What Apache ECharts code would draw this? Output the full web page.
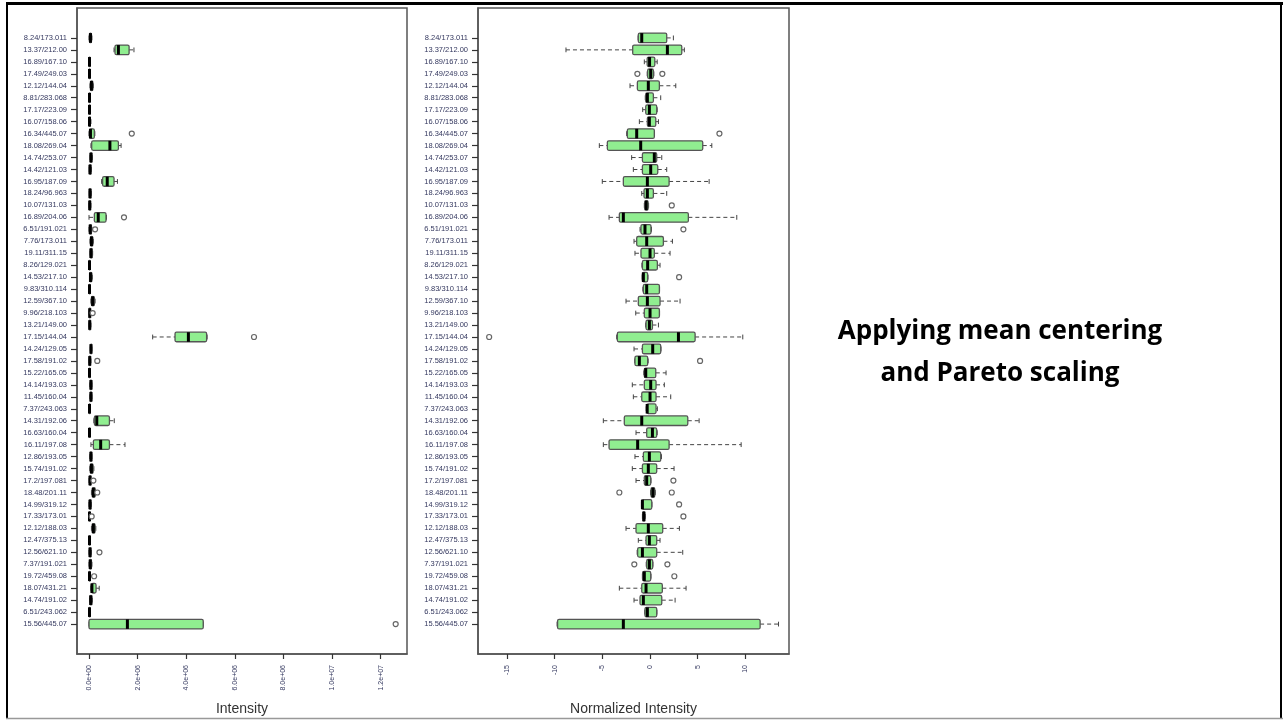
<!DOCTYPE html>
<html>
<head>
<meta charset="utf-8">
<title>Intensity vs normalized intensity</title>
<script src="https://cdn.jsdelivr.net/npm/echarts@6/dist/echarts.min.js"></script>
<style>
    html, body { margin: 0; padding: 0; background: #fff; }
    #main { width: 1283px; height: 721px; }
</style>
</head>
<body>
<div id="main"></div>
<script>
// feature labels, top to bottom
var features = ['8.24/173.011', '13.37/212.00', '16.89/167.10', '17.49/249.03', '12.12/144.04',
    '8.81/283.068', '17.17/223.09', '16.07/158.06', '16.34/445.07', '18.08/269.04',
    '14.74/253.07', '14.42/121.03', '16.95/187.09', '18.24/96.963', '10.07/131.03',
    '16.89/204.06', '6.51/191.021', '7.76/173.011', '19.11/311.15', '8.26/129.021',
    '14.53/217.10', '9.83/310.114', '12.59/367.10', '9.96/218.103', '13.21/149.00',
    '17.15/144.04', '14.24/129.05', '17.58/191.02', '15.22/165.05', '14.14/193.03',
    '11.45/160.04', '7.37/243.063', '14.31/192.06', '16.63/160.04', '16.11/197.08',
    '12.86/193.05', '15.74/191.02', '17.2/197.081', '18.48/201.11', '14.99/319.12',
    '17.33/173.01', '12.12/188.03', '12.47/375.13', '12.56/621.10', '7.37/191.021',
    '19.72/459.08', '18.07/431.21', '14.74/191.02', '6.51/243.062', '15.56/445.07'];

// raw intensity (left panel)
var intMin = [0, 1.03e6, 0, 0, 0.04e6, 0, 0, 0, 0, 0.08e6,
    0.04e6, 0.01e6, 0.52e6, 0.01e6, 0, 0, 0, 0.04e6, 0.04e6, 0,
    0.02e6, 0, 0.08e6, 0, 0, 2.62e6, 0.05e6, 0, 0, 0.03e6,
    0.03e6, 0, 0.20e6, 0, 0.08e6, 0.03e6, 0.03e6, 0, 0.10e6, 0,
    0, 0.10e6, 0, 0, 0, 0, 0.08e6, 0.02e6, 0, 0];
var intQ1 = [0.02e6, 1.07e6, 0.01e6, 0.01e6, 0.06e6, 0.01e6, 0.01e6, 0.01e6, 0.02e6, 0.11e6,
    0.05e6, 0.02e6, 0.56e6, 0.02e6, 0.01e6, 0.22e6, 0.02e6, 0.06e6, 0.05e6, 0.01e6,
    0.03e6, 0.01e6, 0.10e6, 0.01e6, 0.01e6, 3.54e6, 0.06e6, 0.01e6, 0.01e6, 0.05e6,
    0.05e6, 0.01e6, 0.22e6, 0.01e6, 0.18e6, 0.05e6, 0.05e6, 0.02e6, 0.13e6, 0.02e6,
    0.01e6, 0.13e6, 0.01e6, 0.02e6, 0.02e6, 0.01e6, 0.10e6, 0.04e6, 0.01e6, 0];
var intMed = [0.06e6, 1.21e6, 0.02e6, 0.02e6, 0.10e6, 0.02e6, 0.02e6, 0.02e6, 0.06e6, 0.86e6,
    0.08e6, 0.04e6, 0.75e6, 0.04e6, 0.03e6, 0.38e6, 0.05e6, 0.10e6, 0.08e6, 0.02e6,
    0.06e6, 0.02e6, 0.15e6, 0.03e6, 0.03e6, 4.09e6, 0.08e6, 0.03e6, 0.02e6, 0.08e6,
    0.08e6, 0.02e6, 0.32e6, 0.02e6, 0.48e6, 0.08e6, 0.10e6, 0.04e6, 0.18e6, 0.04e6,
    0.02e6, 0.18e6, 0.02e6, 0.04e6, 0.05e6, 0.02e6, 0.12e6, 0.07e6, 0.02e6, 1.58e6];
var intQ3 = [0.10e6, 1.65e6, 0.04e6, 0.04e6, 0.16e6, 0.04e6, 0.04e6, 0.05e6, 0.22e6, 1.21e6,
    0.12e6, 0.08e6, 1.03e6, 0.08e6, 0.06e6, 0.70e6, 0.10e6, 0.16e6, 0.13e6, 0.04e6,
    0.12e6, 0.04e6, 0.22e6, 0.06e6, 0.06e6, 4.84e6, 0.11e6, 0.06e6, 0.04e6, 0.11e6,
    0.11e6, 0.04e6, 0.84e6, 0.04e6, 0.84e6, 0.11e6, 0.17e6, 0.08e6, 0.26e6, 0.08e6,
    0.04e6, 0.25e6, 0.04e6, 0.08e6, 0.10e6, 0.04e6, 0.29e6, 0.12e6, 0.04e6, 4.70e6];
var intMax = [0.12e6, 1.85e6, 0.05e6, 0.05e6, 0.18e6, 0.05e6, 0.05e6, 0.08e6, 0.24e6, 1.32e6,
    0.14e6, 0.10e6, 1.17e6, 0.10e6, 0.08e6, 0.72e6, 0.12e6, 0.18e6, 0.15e6, 0.05e6,
    0.14e6, 0.05e6, 0.25e6, 0.08e6, 0.08e6, 4.86e6, 0.12e6, 0.08e6, 0.05e6, 0.12e6,
    0.12e6, 0.05e6, 1.04e6, 0.05e6, 1.48e6, 0.12e6, 0.20e6, 0.10e6, 0.29e6, 0.10e6,
    0.05e6, 0.28e6, 0.05e6, 0.10e6, 0.12e6, 0.05e6, 0.42e6, 0.14e6, 0.05e6, 4.70e6];
var intOutFeature = ['16.34/445.07', '16.89/204.06', '6.51/191.021', '9.96/218.103', '17.15/144.04',
    '17.58/191.02', '17.2/197.081', '18.48/201.11', '17.33/173.01', '12.56/621.10',
    '19.72/459.08', '15.56/445.07'];
var intOutValue = [1.76e6, 1.44e6, 0.25e6, 0.15e6, 6.79e6, 0.34e6, 0.18e6, 0.34e6, 0.11e6, 0.43e6, 0.21e6, 12.62e6];
var intTickValues = [0, 2e6, 4e6, 6e6, 8e6, 1e7, 1.2e7];
var intTickLabels = ['0.0e+00', '2.0e+06', '4.0e+06', '6.0e+06', '8.0e+06', '1.0e+07', '1.2e+07'];

// mean centred + pareto scaled (right panel)
var normMin = [-1.25, -8.82, -0.6, -0.3, -2.1, -0.5, -0.77, -1.12, -2.45, -5.32,
    -1.93, -1.75, -5.01, -0.87, -0.6, -4.3, -1.05, -1.68, -1.58, -0.85,
    -0.82, -0.75, -2.52, -1.5, -0.45, -3.5, -1.68, -1.6, -0.65, -1.86,
    -1.75, -0.4, -4.9, -1.47, -4.9, -1.58, -1.86, -1.47, 0.05, -0.9,
    -0.8, -2.52, -1.23, -1.35, -0.4, -0.8, -3.22, -1.68, -0.55, -9.75];
var normQ1 = [-1.23, -1.82, -0.3, -0.25, -1.33, -0.45, -0.45, -0.28, -2.38, -4.48,
    -0.8, -0.8, -2.8, -0.63, -0.55, -3.22, -0.95, -1.4, -0.95, -0.8,
    -0.8, -0.7, -1.23, -0.6, -0.42, -3.43, -0.8, -1.58, -0.6, -0.6,
    -0.87, -0.35, -2.7, -0.35, -4.3, -0.7, -0.8, -0.6, 0.1, -0.87,
    -0.75, -1.47, -0.42, -1.3, -0.35, -0.78, -0.87, -1.05, -0.53, -9.7];
var normMed = [-0.87, 1.82, -0.05, 0.07, -0.18, -0.28, -0.07, -0.07, -1.4, -0.98,
    0.45, 0.07, -0.28, -0.28, -0.4, -2.8, -0.53, -0.35, 0.0, -0.25,
    -0.7, -0.35, -0.28, 0.0, -0.07, 2.98, 0.28, -1.12, -0.45, 0.07,
    0.0, -0.3, -0.87, 0.25, -1.3, -0.07, -0.18, -0.35, 0.3, -0.8,
    -0.65, -0.18, -0.07, -0.8, -0.07, -0.6, -0.42, -0.7, -0.28, -2.8];
var normQ3 = [1.75, 3.33, 0.5, 0.35, 0.98, 0.35, 0.7, 0.6, 0.45, 5.53,
    0.7, 0.81, 2.0, 0.35, -0.2, 4.02, 0.1, 1.4, 0.45, 0.77,
    -0.25, 0.98, 1.05, 0.98, 0.25, 4.73, 1.12, -0.25, 0.6, 0.63,
    0.63, 0.63, 3.96, 0.7, 2.0, 1.12, 0.7, 0.07, 0.5, 0.18,
    -0.55, 1.33, 0.7, 0.7, 0.28, 0.07, 1.29, 1.23, 0.7, 11.55];
var normMax = [2.45, 3.6, 0.75, 0.4, 2.7, 1.12, 0.75, 0.88, 0.47, 6.48,
    1.23, 1.75, 6.2, 1.75, -0.15, 9.1, 0.15, 2.35, 2.1, 1.05,
    -0.22, 1.0, 3.15, 1.0, 0.88, 9.73, 1.15, -0.2, 1.68, 1.5,
    2.17, 0.77, 5.15, 0.75, 9.56, 1.2, 2.52, 0.1, 0.55, 0.2,
    -0.5, 3.08, 1.05, 3.43, 0.3, 0.1, 3.78, 2.63, 0.72, 13.48];
var normOutFeature = ['17.49/249.03', '17.49/249.03', '16.34/445.07', '10.07/131.03', '6.51/191.021',
    '14.53/217.10', '17.15/144.04', '17.58/191.02', '17.2/197.081', '18.48/201.11',
    '18.48/201.11', '14.99/319.12', '17.33/173.01', '7.37/191.021', '7.37/191.021',
    '19.72/459.08'];
var normOutValue = [-1.33, 1.29, 7.28, 2.28, 3.5, 3.05, -16.88, 5.25, 2.45, -3.22,
    2.28, 3.05, 3.5, -1.65, 1.82, 2.55];
var normTickValues = [-15, -10, -5, 0, 5, 10];

var labelColor = '#34385f';
var fontName = '"Liberation Sans", Arial, sans-serif';

// row positions on the vertical axis (one per feature)
var rowIndex = features.map(function(f, i) { return i; });

// box + dashed whiskers + short staples + heavy median, like R's boxplot
function renderBox(params, api) {
    var row = api.value(0);
    var pMin = api.coord([api.value(1), row]);
    var pQ1 = api.coord([api.value(2), row]);
    var pMed = api.coord([api.value(3), row]);
    var pQ3 = api.coord([api.value(4), row]);
    var pMax = api.coord([api.value(5), row]);
    var h = api.size([0, 1])[1] * 0.8;
    var y = pMed[1];
    var cap = h / 4;
    var whisker = { stroke: '#444', lineWidth: 1, lineDash: [4, 3] };
    var staple = { stroke: '#444', lineWidth: 1 };
    return {
        type: 'group',
        children: [
            { type: 'line', shape: { x1: pMin[0], y1: y, x2: pQ1[0], y2: y }, style: whisker },
            { type: 'line', shape: { x1: pQ3[0], y1: y, x2: pMax[0], y2: y }, style: whisker },
            { type: 'line', shape: { x1: pMin[0], y1: y - cap, x2: pMin[0], y2: y + cap }, style: staple },
            { type: 'line', shape: { x1: pMax[0], y1: y - cap, x2: pMax[0], y2: y + cap }, style: staple },
            {
                type: 'rect',
                shape: { x: pQ1[0], y: y - h / 2, width: pQ3[0] - pQ1[0], height: h, r: 1.5 },
                style: { fill: '#90ee90', stroke: '#555', lineWidth: 1.3 }
            },
            {
                type: 'line',
                shape: { x1: pMed[0], y1: y - h / 2, x2: pMed[0], y2: y + h / 2 },
                style: { stroke: '#000', lineWidth: 3 }
            }
        ]
    };
}

function boxData(mins, q1s, meds, q3s, maxs) {
    return features.map(function(f, i) {
        return [i, mins[i], q1s[i], meds[i], q3s[i], maxs[i]];
    });
}

function outlierData(names, values) {
    return names.map(function(n, i) {
        return [values[i], features.indexOf(n)];
    });
}

function frameLine() {
    return { show: true, onZero: false, lineStyle: { color: '#555', width: 1.5 } };
}

function tickStyle(len, values) {
    return { show: true, length: len, customValues: values, lineStyle: { color: '#333', width: 1.2 } };
}

// R pads the 1..50 row range by 4% on each side
function rowAxis(gridIndex) {
    return {
        type: 'value',
        gridIndex: gridIndex,
        inverse: true,
        min: -2.5,
        max: 51.5,
        axisLine: frameLine(),
        axisTick: tickStyle(6, rowIndex),
        axisLabel: {
            customValues: rowIndex,
            formatter: function(v) { return features[v]; },
            fontSize: 7.5,
            color: labelColor,
            fontFamily: fontName,
            margin: 10
        },
        splitLine: { show: false }
    };
}

var myChart = echarts.init(document.getElementById('main'));

var option = {
    animation: false,
    backgroundColor: '#fff',
    grid: [
        { left: 77, width: 330, top: 8, height: 647, show: true, borderColor: '#555', borderWidth: 1.5 },
        { left: 478, width: 311, top: 8, height: 647, show: true, borderColor: '#555', borderWidth: 1.5 }
    ],
    xAxis: [{
        type: 'value',
        gridIndex: 0,
        min: -0.494e6,
        max: 13.086e6,
        name: 'Intensity',
        nameLocation: 'middle',
        nameGap: 48,
        nameTextStyle: { fontSize: 14, color: '#333', fontFamily: fontName },
        axisLine: frameLine(),
        axisTick: tickStyle(5, intTickValues),
        axisLabel: {
            customValues: intTickValues,
            rotate: 90,
            fontSize: 7,
            color: labelColor,
            fontFamily: fontName,
            margin: 11,
            formatter: function(v) { return intTickLabels[intTickValues.indexOf(v)]; }
        },
        splitLine: { show: false }
    }, {
        type: 'value',
        gridIndex: 1,
        min: -18.05,
        max: 14.58,
        name: 'Normalized Intensity',
        nameLocation: 'middle',
        nameGap: 48,
        nameTextStyle: { fontSize: 14, color: '#333', fontFamily: fontName },
        axisLine: frameLine(),
        axisTick: tickStyle(5, normTickValues),
        axisLabel: {
            customValues: normTickValues,
            rotate: 90,
            fontSize: 7,
            color: labelColor,
            fontFamily: fontName,
            margin: 11
        },
        splitLine: { show: false }
    }],
    yAxis: [rowAxis(0), rowAxis(1)],
    series: [{
        name: 'Intensity',
        type: 'custom',
        xAxisIndex: 0,
        yAxisIndex: 0,
        renderItem: renderBox,
        encode: { x: [1, 2, 3, 4, 5], y: 0 },
        clip: false,
        data: boxData(intMin, intQ1, intMed, intQ3, intMax)
    }, {
        name: 'Intensity outliers',
        type: 'scatter',
        xAxisIndex: 0,
        yAxisIndex: 0,
        symbol: 'circle',
        symbolSize: 5,
        clip: false,
        itemStyle: { color: '#fff', borderColor: '#666', borderWidth: 1.2, opacity: 1 },
        data: outlierData(intOutFeature, intOutValue)
    }, {
        name: 'Normalized Intensity',
        type: 'custom',
        xAxisIndex: 1,
        yAxisIndex: 1,
        renderItem: renderBox,
        encode: { x: [1, 2, 3, 4, 5], y: 0 },
        clip: false,
        data: boxData(normMin, normQ1, normMed, normQ3, normMax)
    }, {
        name: 'Normalized outliers',
        type: 'scatter',
        xAxisIndex: 1,
        yAxisIndex: 1,
        symbol: 'circle',
        symbolSize: 5,
        clip: false,
        itemStyle: { color: '#fff', borderColor: '#666', borderWidth: 1.2, opacity: 1 },
        data: outlierData(normOutFeature, normOutValue)
    }],
    graphic: [
        // slide border
        { type: 'line', shape: { x1: 6, y1: 3.5, x2: 1283, y2: 3.5 }, style: { stroke: '#000', lineWidth: 3 } },
        { type: 'line', shape: { x1: 7, y1: 3, x2: 7, y2: 719 }, style: { stroke: '#000', lineWidth: 2 } },
        { type: 'line', shape: { x1: 1281, y1: 3, x2: 1281, y2: 719 }, style: { stroke: '#000', lineWidth: 2 } },
        { type: 'line', shape: { x1: 6, y1: 718.5, x2: 1283, y2: 718.5 }, style: { stroke: '#999', lineWidth: 1.5 } },
        {
            type: 'text',
            x: 1000,
            y: 353,
            style: {
                text: 'Applying mean centering\nand Pareto scaling',
                fontSize: 26,
                fontWeight: 'bold',
                fontFamily: '"Open Sans", "Noto Sans", sans-serif',
                fill: '#000',
                align: 'center',
                verticalAlign: 'middle',
                lineHeight: 42
            }
        }
    ]
};

myChart.setOption(option);
</script>
</body>
</html>
